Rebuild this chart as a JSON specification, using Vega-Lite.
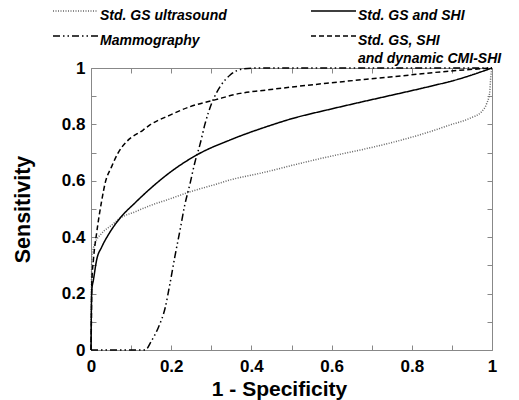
{
 "$schema": "https://vega.github.io/schema/vega-lite/v6.json",
 "width": 401, "height": 282,
 "autosize": {"type": "none"},
 "padding": {"left": 91, "top": 68, "right": 27, "bottom": 50},
 "background": "white",
 "config": {
  "view": {"stroke": "#888", "strokeWidth": 1},
  "font": "Liberation Sans",
  "axis": {"grid": false, "domain": false, "tickColor": "#888", "tickSize": -5, "labelFont": "Liberation Sans", "labelFontWeight": "bold", "labelFontSize": 17, "labelColor": "black", "titleFont": "Liberation Sans", "titleFontWeight": "bold", "titleColor": "black", "labelFlush": false, "labelOverlap": false},
  "legend": {"orient": "none", "legendX": -26.5, "legendY": -68, "columns": 2, "columnPadding": 80, "rowPadding": 2, "symbolType": "M-2.25,0H2.25", "symbolSize": 400, "symbolStrokeWidth": 1.5, "labelFont": "Liberation Sans", "labelFontStyle": "italic", "labelFontWeight": "bold", "labelFontSize": 14, "labelColor": "black", "labelOffset": 13.5, "labelLimit": 300, "labelBaseline": "top"}
 },
 "data": {"values": [
  {"s":"Std. GS ultrasound","x":0,"y":0},{"s":"Std. GS ultrasound","x":0.001,"y":0.2},{"s":"Std. GS ultrasound","x":0.002,"y":0.33},{"s":"Std. GS ultrasound","x":0.01,"y":0.378},{"s":"Std. GS ultrasound","x":0.027,"y":0.414},{"s":"Std. GS ultrasound","x":0.052,"y":0.443},{"s":"Std. GS ultrasound","x":0.072,"y":0.467},{"s":"Std. GS ultrasound","x":0.11,"y":0.49},{"s":"Std. GS ultrasound","x":0.151,"y":0.514},{"s":"Std. GS ultrasound","x":0.193,"y":0.534},{"s":"Std. GS ultrasound","x":0.247,"y":0.561},{"s":"Std. GS ultrasound","x":0.305,"y":0.585},{"s":"Std. GS ultrasound","x":0.347,"y":0.603},{"s":"Std. GS ultrasound","x":0.438,"y":0.632},{"s":"Std. GS ultrasound","x":0.505,"y":0.656},{"s":"Std. GS ultrasound","x":0.588,"y":0.684},{"s":"Std. GS ultrasound","x":0.671,"y":0.709},{"s":"Std. GS ultrasound","x":0.754,"y":0.737},{"s":"Std. GS ultrasound","x":0.845,"y":0.774},{"s":"Std. GS ultrasound","x":0.895,"y":0.798},{"s":"Std. GS ultrasound","x":0.945,"y":0.822},{"s":"Std. GS ultrasound","x":0.974,"y":0.845},{"s":"Std. GS ultrasound","x":0.987,"y":0.875},{"s":"Std. GS ultrasound","x":0.994,"y":0.91},{"s":"Std. GS ultrasound","x":0.997,"y":0.969},{"s":"Std. GS ultrasound","x":1,"y":1},
  {"s":"Std. GS and SHI","x":0,"y":0},{"s":"Std. GS and SHI","x":0.001,"y":0.15},{"s":"Std. GS and SHI","x":0.002,"y":0.213},{"s":"Std. GS and SHI","x":0.006,"y":0.248},{"s":"Std. GS and SHI","x":0.014,"y":0.319},{"s":"Std. GS and SHI","x":0.027,"y":0.366},{"s":"Std. GS and SHI","x":0.043,"y":0.408},{"s":"Std. GS and SHI","x":0.072,"y":0.467},{"s":"Std. GS and SHI","x":0.11,"y":0.522},{"s":"Std. GS and SHI","x":0.15,"y":0.575},{"s":"Std. GS and SHI","x":0.2,"y":0.633},{"s":"Std. GS and SHI","x":0.268,"y":0.695},{"s":"Std. GS and SHI","x":0.347,"y":0.745},{"s":"Std. GS and SHI","x":0.438,"y":0.792},{"s":"Std. GS and SHI","x":0.505,"y":0.822},{"s":"Std. GS and SHI","x":0.588,"y":0.851},{"s":"Std. GS and SHI","x":0.67,"y":0.878},{"s":"Std. GS and SHI","x":0.754,"y":0.905},{"s":"Std. GS and SHI","x":0.837,"y":0.932},{"s":"Std. GS and SHI","x":0.92,"y":0.962},{"s":"Std. GS and SHI","x":1,"y":1},
  {"s":"Mammography","x":0,"y":0},{"s":"Mammography","x":0.135,"y":0},{"s":"Mammography","x":0.151,"y":0.033},{"s":"Mammography","x":0.168,"y":0.08},{"s":"Mammography","x":0.185,"y":0.15},{"s":"Mammography","x":0.197,"y":0.236},{"s":"Mammography","x":0.209,"y":0.33},{"s":"Mammography","x":0.222,"y":0.425},{"s":"Mammography","x":0.234,"y":0.515},{"s":"Mammography","x":0.247,"y":0.59},{"s":"Mammography","x":0.259,"y":0.665},{"s":"Mammography","x":0.272,"y":0.73},{"s":"Mammography","x":0.284,"y":0.8},{"s":"Mammography","x":0.301,"y":0.875},{"s":"Mammography","x":0.322,"y":0.934},{"s":"Mammography","x":0.347,"y":0.975},{"s":"Mammography","x":0.38,"y":0.997},{"s":"Mammography","x":0.42,"y":1},{"s":"Mammography","x":1,"y":1},
  {"s":"Std. GS, SHI and dynamic CMI-SHI","x":0,"y":0},{"s":"Std. GS, SHI and dynamic CMI-SHI","x":0.001,"y":0.1},{"s":"Std. GS, SHI and dynamic CMI-SHI","x":0.002,"y":0.236},{"s":"Std. GS, SHI and dynamic CMI-SHI","x":0.006,"y":0.319},{"s":"Std. GS, SHI and dynamic CMI-SHI","x":0.014,"y":0.414},{"s":"Std. GS, SHI and dynamic CMI-SHI","x":0.027,"y":0.532},{"s":"Std. GS, SHI and dynamic CMI-SHI","x":0.035,"y":0.59},{"s":"Std. GS, SHI and dynamic CMI-SHI","x":0.052,"y":0.652},{"s":"Std. GS, SHI and dynamic CMI-SHI","x":0.068,"y":0.7},{"s":"Std. GS, SHI and dynamic CMI-SHI","x":0.089,"y":0.739},{"s":"Std. GS, SHI and dynamic CMI-SHI","x":0.13,"y":0.78},{"s":"Std. GS, SHI and dynamic CMI-SHI","x":0.147,"y":0.798},{"s":"Std. GS, SHI and dynamic CMI-SHI","x":0.197,"y":0.833},{"s":"Std. GS, SHI and dynamic CMI-SHI","x":0.247,"y":0.863},{"s":"Std. GS, SHI and dynamic CMI-SHI","x":0.309,"y":0.887},{"s":"Std. GS, SHI and dynamic CMI-SHI","x":0.372,"y":0.91},{"s":"Std. GS, SHI and dynamic CMI-SHI","x":0.438,"y":0.922},{"s":"Std. GS, SHI and dynamic CMI-SHI","x":0.588,"y":0.946},{"s":"Std. GS, SHI and dynamic CMI-SHI","x":0.753,"y":0.969},{"s":"Std. GS, SHI and dynamic CMI-SHI","x":0.878,"y":0.987},{"s":"Std. GS, SHI and dynamic CMI-SHI","x":1,"y":1}
 ]},
 "layer": [
  {
   "mark": {"type": "line", "strokeWidth": 1.5, "interpolate": "monotone"},
   "encoding": {
    "x": {"field": "x", "type": "quantitative", "scale": {"domain": [0, 1], "nice": false}, "axis": {"values": [0,0.1,0.2,0.3,0.4,0.5,0.6,0.7,0.8,0.9,1], "format": ".1~f", "labelExpr": "round(datum.value*10)%2==0 ? datum.label : ''", "title": "1 - Specificity", "titleFontSize": 21, "labelPadding": 13, "titleBaseline": "top", "titleY": 28, "titleX": 188}},
    "y": {"field": "y", "type": "quantitative", "scale": {"domain": [0, 1], "nice": false}, "axis": {"values": [0,0.1,0.2,0.3,0.4,0.5,0.6,0.7,0.8,0.9,1], "format": ".1~f", "labelExpr": "round(datum.value*10)%2==0 ? datum.label : ''", "title": "Sensitivity", "titleFontSize": 21.5, "labelPadding": 11, "titlePadding": 27}},
    "color": {"field": "s", "type": "nominal", "scale": {"domain": ["Std. GS ultrasound", "Mammography", "Std. GS and SHI", "Std. GS, SHI and dynamic CMI-SHI"], "range": ["#666666", "#000000", "#000000", "#000000"]}, "legend": {"title": null, "labelExpr": "datum.label == 'Std. GS, SHI and dynamic CMI-SHI' ? ['Std. GS, SHI', 'and dynamic CMI-SHI'] : datum.label", "encode": {"labels": {"update": {"dy": {"value": -2}, "lineHeight": {"value": 18}}}}}},
    "strokeDash": {"field": "s", "type": "nominal", "scale": {"domain": ["Std. GS ultrasound", "Mammography", "Std. GS and SHI", "Std. GS, SHI and dynamic CMI-SHI"], "range": [[1, 1.5], [7, 3, 1.5, 3, 1.5, 3], [1, 0], [5, 3]]}, "legend": {"title": null, "labelExpr": "datum.label == 'Std. GS, SHI and dynamic CMI-SHI' ? ['Std. GS, SHI', 'and dynamic CMI-SHI'] : datum.label", "encode": {"labels": {"update": {"dy": {"value": -2}, "lineHeight": {"value": 18}}}}}}
   }
  },
  {
   "mark": {"type": "line", "strokeOpacity": 0},
   "encoding": {
    "x": {"field": "x", "type": "quantitative", "scale": {"domain": [0, 1], "nice": false}, "axis": {"orient": "top", "values": [0,0.1,0.2,0.3,0.4,0.5,0.6,0.7,0.8,0.9,1], "labels": false, "title": null}},
    "y": {"field": "y", "type": "quantitative", "scale": {"domain": [0, 1], "nice": false}, "axis": {"orient": "right", "values": [0,0.1,0.2,0.3,0.4,0.5,0.6,0.7,0.8,0.9,1], "labels": false, "title": null}},
    "detail": {"field": "s"}
   }
  }
 ],
 "resolve": {"axis": {"x": "independent", "y": "independent"}}
}
